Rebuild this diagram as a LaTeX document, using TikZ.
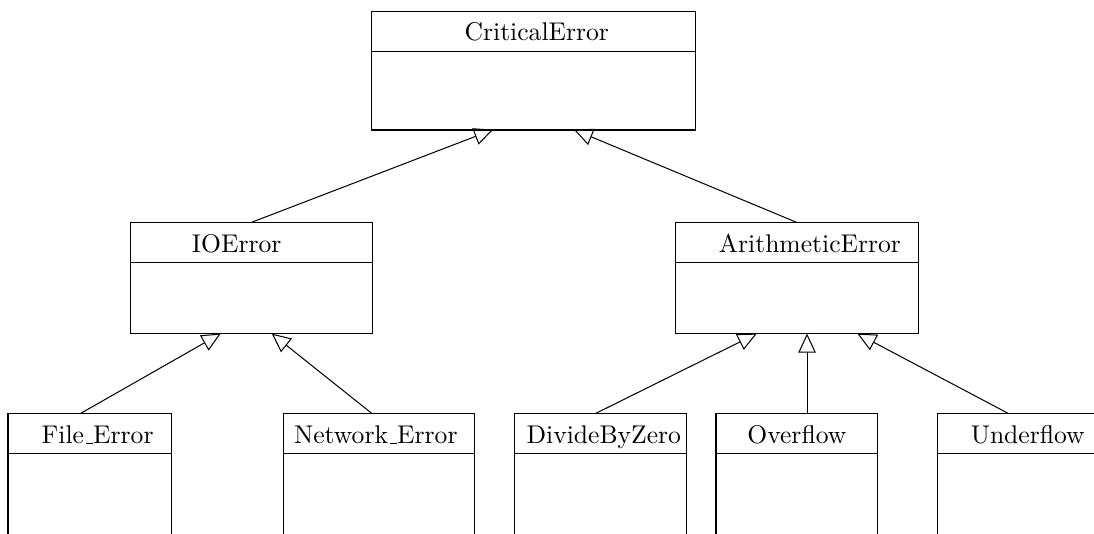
\documentclass[tikz,border=0pt]{standalone}
\usepackage{amssymb}
\usetikzlibrary{arrows.meta}

\newcommand{\gach}{\leavevmode\kern.06em\vbox{\hrule width.3em}}

\tikzset{
    lop/.style={draw, rectangle, inner sep=0pt, outer sep=0pt},
    tenlop/.style={anchor=base, inner sep=0pt},
    kethua/.style={-{Triangle[open, length=7.4pt, width=6.8pt]}}
}

\begin{document}
\begin{tikzpicture}
        % Khung hình
        \useasboundingbox (0,0) rectangle (15.02,7.33);
        \clip (0,0) rectangle (15.02,7.33);

        % Lớp gốc
        \node[lop, minimum width=4.45cm, minimum height=1.63cm] (crit) at (7.33,6.36) {};
        \draw ([yshift=-0.55cm]crit.north west) -- ([yshift=-0.55cm]crit.north east);
        \node[tenlop] (crit-t) at (7.37,6.77) {CriticalError};

        % Lớp tầng giữa
        \node[lop, minimum width=3.32cm, minimum height=1.52cm] (io) at (3.45,3.51) {};
        \draw ([yshift=-0.54cm]io.north west) -- ([yshift=-0.54cm]io.north east);
        \node[tenlop] (io-t) at (3.25,3.86) {IOError};

        \node[lop, minimum width=3.34cm, minimum height=1.52cm] (arith) at (10.94,3.51) {};
        \draw ([yshift=-0.54cm]arith.north west) -- ([yshift=-0.54cm]arith.north east);
        \node[tenlop] (arith-t) at (11.12,3.86) {ArithmeticError};

        % Lớp tầng dưới
        \node[lop, minimum width=2.24cm, minimum height=2.06cm] (file) at (1.23,0.62) {};
        \draw ([yshift=-0.55cm]file.north west) -- ([yshift=-0.55cm]file.north east);
        \node[tenlop] (file-t) at (1.34,1.24) {File\gach Error};

        \node[lop, minimum width=2.62cm, minimum height=2.06cm] (net) at (5.20,0.62) {};
        \draw ([yshift=-0.55cm]net.north west) -- ([yshift=-0.55cm]net.north east);
        \node[tenlop] (net-t) at (5.16,1.24) {Network\gach Error};

        \node[lop, minimum width=2.36cm, minimum height=2.06cm] (div) at (8.24,0.62) {};
        \draw ([yshift=-0.55cm]div.north west) -- ([yshift=-0.55cm]div.north east);
        \node[tenlop] (div-t) at (8.29,1.24) {DivideByZero};

        \node[lop, minimum width=2.22cm, minimum height=2.06cm] (over) at (10.94,0.62) {};
        \draw ([yshift=-0.55cm]over.north west) -- ([yshift=-0.55cm]over.north east);
        \node[tenlop] (over-t) at (10.94,1.24) {Overflow};

        \node[lop, minimum width=2.47cm, minimum height=2.06cm] (under) at (14.11,0.62) {};
        \draw ([yshift=-0.55cm]under.north west) -- ([yshift=-0.55cm]under.north east);
        \node[tenlop] (under-t) at (14.11,1.24) {Underflow};

        % Điểm nối
        \coordinate (crit-l) at (6.77,5.55);
        \coordinate (crit-r) at (7.88,5.55);
        \coordinate (io-up) at (3.46,4.28);
        \coordinate (io-l) at (3.03,2.75);
        \coordinate (io-r) at (3.73,2.75);
        \coordinate (arith-up) at (10.93,4.28);
        \coordinate (arith-l) at (10.39,2.75);
        \coordinate (arith-m) at (11.08,2.75);
        \coordinate (arith-r) at (11.77,2.75);
        \coordinate (file-up) at (1.10,1.65);
        \coordinate (net-up) at (5.11,1.65);
        \coordinate (div-up) at (8.17,1.65);
        \coordinate (over-up) at (11.08,1.65);
        \coordinate (under-up) at (13.85,1.65);

        % Quan hệ kế thừa
        \draw[kethua] (io-up) -- (crit-l);
        \draw[kethua] (arith-up) -- (crit-r);
        \draw[kethua] (file-up) -- (io-l);
        \draw[kethua] (net-up) -- (io-r);
        \draw[kethua] (div-up) -- (arith-l);
        \draw[kethua] (over-up) -- (arith-m);
        \draw[kethua] (under-up) -- (arith-r);
    \end{tikzpicture}
\end{document}
